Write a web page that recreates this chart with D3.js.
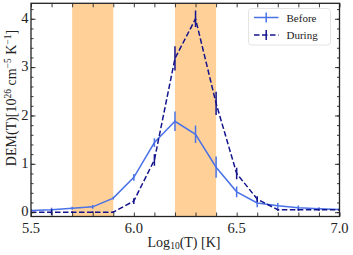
<!DOCTYPE html>
<html>
<head>
<meta charset="utf-8">
<script src="https://cdn.jsdelivr.net/npm/d3@7"></script>
<style>
  body { margin: 0; background: #fff; }
  svg { display: block; }
  text { font-family: "Liberation Serif", "DejaVu Serif", serif; fill: #222; }
</style>
</head>
<body>
<svg id="chart" width="353" height="255"></svg>
<script>
// log10 temperature grid
const logT = [5.5, 5.6, 5.7, 5.8, 5.9, 6.0, 6.1, 6.2, 6.3, 6.4, 6.5, 6.6, 6.7, 6.8, 6.9, 7.0];
const before = [0.035, 0.05, 0.08, 0.11, 0.29, 0.72, 1.44, 1.88, 1.61, 0.93, 0.42, 0.19, 0.13, 0.09, 0.07, 0.055];
const beforeErr = [0.03, 0.04, 0.03, 0.04, 0.03, 0.07, 0.09, 0.2, 0.18, 0.22, 0.11, 0.09, 0.06, 0.05, 0.03, 0.02];
const during = [0.0, 0.0, 0.0, 0.0, 0.0, 0.23, 1.08, 3.18, 4.0, 2.25, 0.8, 0.27, 0.05, 0.05, 0.05, 0.05];
const duringErr = [0.02, 0.06, 0.02, 0.02, 0.02, 0.06, 0.12, 0.25, 0.17, 0.24, 0.12, 0.06, 0.02, 0.02, 0.02, 0.02];
const bands = [[5.7, 5.9], [6.2, 6.4]];
const xTicks = [5.5, 6.0, 6.5, 7.0];
const yTicks = [0, 1, 2, 3, 4];
const seriesNames = ["Before", "During"];

const colBefore = "#4a72e6";
const colDuring = "#14148c";

const svg = d3.select("#chart");
const m = { left: 31, right: 339.5, top: 3.3, bottom: 216.5 };

const x = d3.scaleLinear().domain([5.5, 7.0]).range([m.left, m.right]);
const y = d3.scaleLinear().domain([-0.09, 4.32]).range([m.bottom, m.top]);

svg.append("defs").append("clipPath").attr("id", "plotclip")
  .append("rect")
  .attr("x", m.left).attr("y", m.top)
  .attr("width", m.right - m.left).attr("height", m.bottom - m.top);

const plot = svg.append("g").attr("clip-path", "url(#plotclip)");

// shaded temperature bands
plot.selectAll("rect.band")
  .data(bands)
  .enter()
  .append("rect")
  .attr("class", "band")
  .attr("x", (d) => x(d[0]))
  .attr("width", (d) => x(d[1]) - x(d[0]))
  .attr("y", m.top)
  .attr("height", m.bottom - m.top)
  .attr("fill", "#ffd199");

function drawSeries(vals, errs, color, dash) {
  const pts = logT.map((t, i) => ({ t: t, v: vals[i], e: errs[i] }));
  const line = d3.line().x((d) => x(d.t)).y((d) => y(d.v));
  plot.append("path")
    .datum(pts)
    .attr("d", line)
    .attr("fill", "none")
    .attr("stroke", color)
    .attr("stroke-width", 1.5)
    .attr("stroke-dasharray", dash);
  plot.selectAll(null)
    .data(pts)
    .enter()
    .append("line")
    .attr("x1", (d) => x(d.t))
    .attr("x2", (d) => x(d.t))
    .attr("y1", (d) => y(d.v - d.e))
    .attr("y2", (d) => y(d.v + d.e))
    .attr("stroke", color)
    .attr("stroke-width", 1.5);
}

drawSeries(before, beforeErr, colBefore, null);
drawSeries(during, duringErr, colDuring, "5.5,2.5");

// axes, ticks point inward on all four sides
const xMinor = d3.range(5.5, 7.0001, 0.1);
const yMinor = d3.range(0, 4.3, 0.2);

svg.append("g")
  .attr("transform", `translate(0,${m.bottom})`)
  .call(d3.axisBottom(x).tickValues(xMinor).tickSize(-4).tickFormat(""))
  .call((g) => g.select(".domain").remove());
svg.append("g")
  .attr("transform", `translate(0,${m.top})`)
  .call(d3.axisTop(x).tickValues(xMinor).tickSize(-4).tickFormat(""))
  .call((g) => g.select(".domain").remove());
svg.append("g")
  .attr("transform", `translate(${m.left},0)`)
  .call(d3.axisLeft(y).tickValues(yMinor).tickSize(-2.5).tickFormat(""))
  .call((g) => g.select(".domain").remove());
svg.append("g")
  .attr("transform", `translate(${m.right},0)`)
  .call(d3.axisRight(y).tickValues(yMinor).tickSize(-2.5).tickFormat(""))
  .call((g) => g.select(".domain").remove());
svg.append("g")
  .attr("transform", `translate(${m.left},0)`)
  .call(d3.axisLeft(y).tickValues(yTicks).tickSize(-4.5).tickFormat(""))
  .call((g) => g.select(".domain").remove());
svg.append("g")
  .attr("transform", `translate(${m.right},0)`)
  .call(d3.axisRight(y).tickValues(yTicks).tickSize(-4.5).tickFormat(""))
  .call((g) => g.select(".domain").remove());

svg.selectAll(".tick line").attr("stroke", "#222").attr("stroke-width", 0.9);

svg.append("rect")
  .attr("x", m.left).attr("y", m.top)
  .attr("width", m.right - m.left).attr("height", m.bottom - m.top)
  .attr("fill", "none")
  .attr("stroke", "#222")
  .attr("stroke-width", 1.3);

// tick labels
svg.selectAll("text.xt")
  .data(xTicks)
  .enter()
  .append("text")
  .attr("class", "xt")
  .attr("x", (d) => x(d))
  .attr("y", 232.5)
  .attr("text-anchor", "middle")
  .attr("font-size", 14.5)
  .text((d) => d.toFixed(1));

svg.selectAll("text.yt")
  .data(yTicks)
  .enter()
  .append("text")
  .attr("class", "yt")
  .attr("x", 28.5)
  .attr("y", (d) => y(d) + 4.3)
  .attr("text-anchor", "end")
  .attr("font-size", 14.5)
  .text((d) => d);

// axis labels
const xl = svg.append("text")
  .attr("x", 184)
  .attr("y", 246.5)
  .attr("text-anchor", "middle")
  .attr("font-size", 14);
xl.append("tspan").text("Log");
xl.append("tspan").attr("font-size", 9.5).attr("dy", 2.5).text("10");
xl.append("tspan").attr("dy", -2.5).text("(T) [K]");

const yl = svg.append("text")
  .attr("transform", `translate(16,98) rotate(-90)`)
  .attr("text-anchor", "middle")
  .attr("font-size", 14);
yl.append("tspan").text("DEM(T)[10");
yl.append("tspan").attr("font-size", 9.5).attr("dy", -5.5).text("26");
yl.append("tspan").attr("dy", 5.5).text(" cm");
yl.append("tspan").attr("font-size", 9.5).attr("dy", -5.5).text("\u22125");
yl.append("tspan").attr("dy", 5.5).text(" K");
yl.append("tspan").attr("font-size", 9.5).attr("dy", -5.5).text("\u22121");
yl.append("tspan").attr("dy", 5.5).text("]");

// legend
const lg = svg.append("g");
lg.append("rect")
  .attr("x", 248.5).attr("y", 8.5)
  .attr("width", 82).attr("height", 36.5)
  .attr("rx", 3)
  .attr("fill", "#fff")
  .attr("fill-opacity", 0.8)
  .attr("stroke", "#ddd")
  .attr("stroke-width", 0.8);

const legendItems = seriesNames.map((n, i) => ({
  name: n,
  color: i === 0 ? colBefore : colDuring,
  dash: i === 0 ? null : "5.5,2.5",
  cy: 17.5 + i * 17.5
}));

const li = lg.selectAll("g.item").data(legendItems).enter().append("g");
li.append("line")
  .attr("x1", 254).attr("x2", 278.5)
  .attr("y1", (d) => d.cy).attr("y2", (d) => d.cy)
  .attr("stroke", (d) => d.color)
  .attr("stroke-width", 1.5)
  .attr("stroke-dasharray", (d) => d.dash);
li.append("line")
  .attr("x1", 266.2).attr("x2", 266.2)
  .attr("y1", (d) => d.cy - 5).attr("y2", (d) => d.cy + 5)
  .attr("stroke", (d) => d.color)
  .attr("stroke-width", 1.5);
li.append("text")
  .attr("x", 286.5)
  .attr("y", (d) => d.cy + 4)
  .attr("font-size", 11)
  .text((d) => d.name);
</script>
</body>
</html>
